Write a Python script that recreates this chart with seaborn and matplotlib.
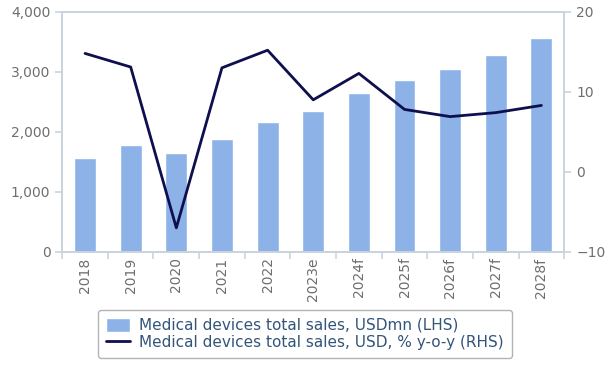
import numpy as np
import pandas as pd
import matplotlib
matplotlib.use("Agg")
import matplotlib.pyplot as plt
import seaborn as sns
from matplotlib.ticker import FuncFormatter, FixedLocator

years = ["2018", "2019", "2020", "2021", "2022", "2023e", "2024f",
         "2025f", "2026f", "2027f", "2028f"]
sales_usdmn = [1560, 1775, 1640, 1875, 2160, 2340, 2640, 2860, 3045, 3280, 3560]
growth_pct = [14.8, 13.1, -7.0, 13.0, 15.2, 9.0, 12.3, 7.8, 6.9, 7.4, 8.3]

bar_label = "Medical devices total sales, USDmn (LHS)"
line_label = "Medical devices total sales, USD, % y-o-y (RHS)"

bar_color = "#8CB2E8"
line_color = "#0E0F4F"
axis_color = "#C9D3DD"
tick_color = "#6E6E6E"

sns.set_style("white")
plt.rcParams['font.family'] = ['DejaVu Sans']

df = pd.DataFrame({"year": years, "sales": sales_usdmn, "growth": growth_pct})

fig = plt.figure(figsize=(6.1, 3.81), dpi=100)
ax = fig.add_axes([0.102, 0.339, 0.823, 0.630])

sns.barplot(data=df, x="year", y="sales", color=bar_color, width=0.48,
            saturation=1, ax=ax, label=bar_label)
ax.set_ylim(0, 4000)
ax.set_yticks([0, 1000, 2000, 3000, 4000])
ax.yaxis.set_major_formatter(FuncFormatter(lambda v, p: f"{int(v):,}"))
ax.set_xlim(-0.5, len(years) - 0.5)
ax.set_xlabel("")
ax.set_ylabel("")

ax2 = ax.twinx()
sns.lineplot(x=np.arange(len(years)), y=growth_pct, color=line_color,
             linewidth=2, ax=ax2, label=line_label, legend=False)
ax2.set_ylim(-10, 20)
ax2.set_yticks([-10, 0, 10, 20])
ax2.set_xlim(-0.5, len(years) - 0.5)

for a in (ax, ax2):
    for s in a.spines.values():
        s.set_color(axis_color)
        s.set_linewidth(1.2)

ax.tick_params(axis="y", colors=axis_color, labelcolor=tick_color,
               labelsize=10, length=5, width=1.2, left=True)
ax2.tick_params(axis="y", colors=axis_color, labelcolor=tick_color,
                labelsize=10, length=5, width=1.2, right=True)
ax.tick_params(axis="x", which="major", length=0, labelcolor=tick_color,
               labelsize=10, labelrotation=90, pad=4)
ax.xaxis.set_minor_locator(FixedLocator(np.arange(-0.5, len(years), 1.0)))
ax.tick_params(axis="x", which="minor", bottom=True, length=5, width=1.2,
               color=axis_color)

h1, l1 = ax.get_legend_handles_labels()
h2, l2 = ax2.get_legend_handles_labels()
if ax.get_legend() is not None:
    ax.get_legend().remove()
leg = fig.legend(h1 + h2, l1 + l2, loc="center", bbox_to_anchor=(0.5, 0.123),
                 fontsize=11, frameon=True, fancybox=True,
                 edgecolor="#A0A0A0", handlelength=1.6, handleheight=1.0,
                 borderpad=0.5, labelspacing=0.15, handletextpad=0.6)
for t in leg.get_texts():
    t.set_color("#33557A")

fig.savefig("out.png", dpi=100)
